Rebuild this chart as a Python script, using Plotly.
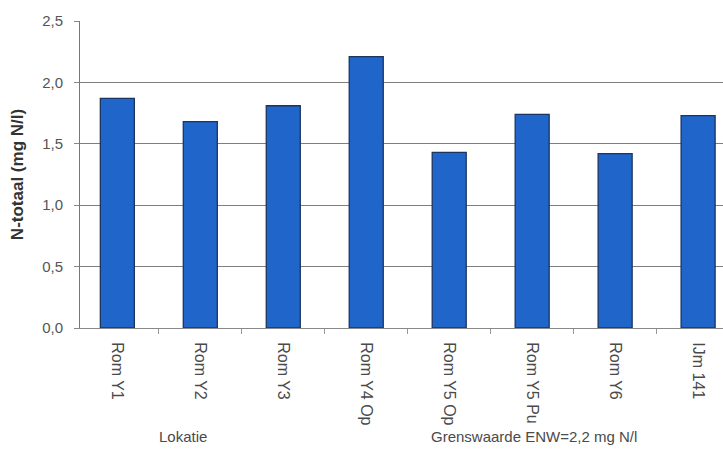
import plotly.graph_objects as go

# Measured total nitrogen per location (mg N/l)
locaties = ["Rom Y1", "Rom Y2", "Rom Y3", "Rom Y4 Op", "Rom Y5 Op",
            "Rom Y5 Pu", "Rom Y6", "IJm 141"]
n_totaal = [1.87, 1.68, 1.81, 2.21, 1.43, 1.74, 1.42, 1.73]
y_ticks = [0, 0.5, 1.0, 1.5, 2.0, 2.5]

FONT = "Liberation Sans, Arial, sans-serif"
GREY = "#4a4a4a"

fig = go.Figure(
    go.Bar(
        x=locaties,
        y=n_totaal,
        width=0.41,
        marker=dict(color="#2065c9", line=dict(color="#1b3560", width=1.3)),
    )
)

fig.update_layout(
    width=723,
    height=465,
    margin=dict(l=80, r=0, t=21, b=137),
    paper_bgcolor="white",
    plot_bgcolor="white",
    separators=",.",
    showlegend=False,
    font=dict(family=FONT, size=14, color=GREY),
    xaxis=dict(
        type="category",
        range=[-0.45, 7.3],
        tickangle=90,
        tickson="boundaries",
        ticks="outside",
        ticklen=5,
        tickcolor="#999",
        ticklabelstandoff=10,
        showline=True,
        linecolor="#888",
        linewidth=1,
        showgrid=False,
        tickfont=dict(size=16, color=GREY),
    ),
    yaxis=dict(
        range=[0, 2.5],
        tickvals=y_ticks,
        tickformat=".1f",
        ticks="outside",
        ticklen=5,
        tickcolor="#888",
        ticklabelstandoff=8,
        showline=True,
        linecolor="#777",
        linewidth=1,
        showgrid=True,
        gridcolor="#7e7e7e",
        gridwidth=1,
        zeroline=False,
        tickfont=dict(size=15, color="#555"),
        title=dict(text="<b>N-totaal (mg N/l)</b>",
                   font=dict(size=17, color="#333"), standoff=14),
    ),
)

# Captions under the axis, positioned in pixels relative to the plot area
plot_w = 723 - 80
plot_h = 465 - 21 - 137
captions = [("Lokatie", 183, 436, 15), ("Grenswaarde ENW=2,2 mg N/l", 534, 436, 15)]
for text, px, py, size in captions:
    fig.add_annotation(
        text=text,
        x=(px - 80) / plot_w,
        y=(465 - 137 - py) / plot_h,
        xref="paper", yref="paper",
        xanchor="center", yanchor="middle",
        showarrow=False,
        font=dict(family=FONT, size=size, color=GREY),
    )

fig.write_html("out.html")
